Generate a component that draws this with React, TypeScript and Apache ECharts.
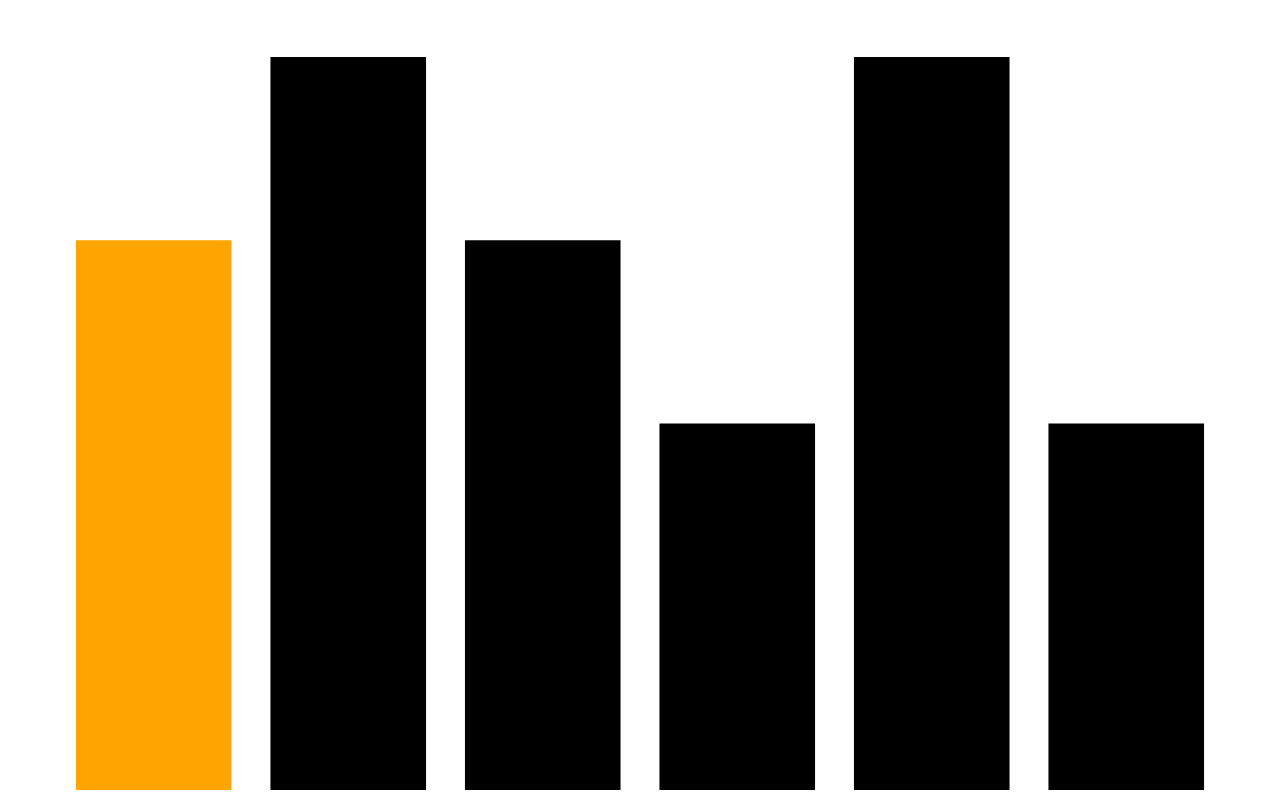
import React, { useEffect, useRef } from "react";
import * as echarts from "echarts";

const categories = ["A", "B", "C", "D", "E", "F"];
const values = [3, 4, 3, 2, 4, 2];
const highlightIndex = 0;

export default function App() {
  const ref = useRef<HTMLDivElement>(null);
  useEffect(() => {
    if (!ref.current) return;
    const chart = echarts.init(ref.current, undefined, { renderer: "svg" });
    chart.setOption({
      animation: false,
      backgroundColor: "#ffffff",
      grid: { left: 56.5, right: 56.5, top: 57, bottom: 20, containLabel: false },
      xAxis: {
        type: "category",
        data: categories,
        show: false,
      },
      yAxis: {
        type: "value",
        min: 0,
        max: 4,
        show: false,
        splitLine: { show: false },
      },
      series: [
        {
          type: "bar",
          barCategoryGap: "20%",
          data: values.map((v, i) => ({
            value: v,
            itemStyle: { color: i === highlightIndex ? "#FFA500" : "#000000" },
          })),
        },
      ],
    });
    return () => chart.dispose();
  }, []);
  return (
    <div
      ref={ref}
      style={{ position: "fixed", left: 0, top: 0, width: 1280, height: 810 }}
    />
  );
}
